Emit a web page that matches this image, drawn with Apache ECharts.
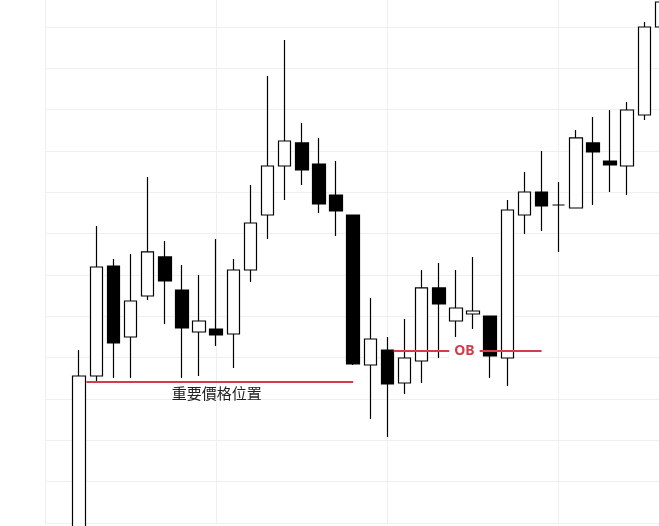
<!DOCTYPE html>
<html>
<head>
<meta charset="utf-8">
<script src="https://cdn.jsdelivr.net/npm/echarts@6/dist/echarts.min.js"></script>
<style>html,body{margin:0;padding:0;background:#fff;}#c{width:659px;height:526px;}</style>
</head>
<body>
<div id="c"></div>
<script>
// candle positions (x index) and OHLC values
var xIndex = [2,3,4,5,6,7,8,9,10,11,12,13,14,15,16,17,18,19,20,21,22,23,24,25,26,27,28,29,30,31,32,33,34,35,36];
var opens  = [-5,35.56,62.18,45.0,54.92,64.36,56.37,46.21,46.94,45.73,61.21,74.52,86.37,91.94,86.85,79.35,74.52,38.23,41.86,33.87,39.19,56.86,48.87,50.56,50.08,39.92,74.52,80.08,76.94,76.21,91.94,87.58,86.37,98.71,120.0];
var closes = [35.56,61.94,43.55,53.71,65.57,58.55,47.18,48.87,45.48,61.21,72.58,86.37,92.42,85.40,77.18,75.48,38.47,44.52,33.63,39.92,56.86,52.98,52.02,51.29,40.40,75.73,80.08,76.69,76.94,93.15,89.76,86.61,99.92,120.0,126.05];
var lows   = [-8,34.35,35.08,35.08,53.95,48.15,35.08,35.56,42.82,37.50,58.31,68.71,78.15,81.77,75.0,69.44,38.23,25.16,20.81,31.21,33.87,39.92,45.0,46.94,35.08,33.15,69.92,70.65,65.57,76.21,76.94,80.08,79.35,97.50,120.0];
var highs  = [41.86,71.86,63.87,65.08,83.71,68.23,62.42,60.0,68.71,63.87,81.77,108.15,116.85,96.77,93.15,87.58,74.52,54.44,45.0,49.35,61.21,62.90,61.21,64.36,50.08,78.15,84.92,90.0,82.50,95.08,98.23,99.92,101.85,121.21,128.0];
var keyLevel = 34.2;
var keyStart = 2.42, keyEnd = 18;
var keyLabel = '重要價格位置';
var obLevel = 41.6;
var obStart = 20.35, obEnd = 29;
var obLabel = 'OB';

var data = xIndex.map(function (x, i) { return [x, opens[i], closes[i], lows[i], highs[i]]; });

var chart = echarts.init(document.getElementById('c'), null, {renderer: 'canvas'});
chart.setOption({
  backgroundColor: '#ffffff',
  animation: false,
  grid: {left: 45, right: 0, top: 0, bottom: 3, containLabel: false},
  xAxis: {
    type: 'value', min: 0, max: 35.86, interval: 10,
    axisLine: {show: false}, axisTick: {show: false}, axisLabel: {show: false},
    splitLine: {show: true, showMaxLine: false, lineStyle: {color: '#efefef', width: 1}}
  },
  yAxis: {
    type: 'value', min: 0, max: 126.53, interval: 10,
    axisLine: {show: false}, axisTick: {show: false}, axisLabel: {show: false},
    splitLine: {show: true, showMaxLine: false, lineStyle: {color: '#efefef', width: 1}}
  },
  series: [{
    type: 'candlestick',
    encode: {x: 0, y: [1, 2, 3, 4]},
    data: data,
    clip: false,
    barWidth: 13,
    itemStyle: {
      color: '#ffffff', color0: '#000000',
      borderColor: '#000000', borderColor0: '#000000', borderWidth: 1.2
    },
    markLine: {
      silent: true, symbol: 'none', animation: false,
      data: [
        [
          {coord: [keyStart, keyLevel], lineStyle: {color: '#d43b4c', width: 2, type: 'solid'},
           label: {show: true, formatter: keyLabel, position: 'insideMiddleBottom', color: '#222', fontSize: 15,
                   fontFamily: 'Noto Sans CJK TC', distance: 4, offset: [-3, 0]}},
          {coord: [keyEnd, keyLevel]}
        ],
        [
          {coord: [obStart, obLevel], lineStyle: {color: '#d43b4c', width: 2, type: 'solid'},
           label: {show: true, formatter: obLabel, position: 'insideMiddle', verticalAlign: 'middle', distance: 0,
                   offset: [-3, 0], color: '#d43b4c', fontSize: 14, fontWeight: 'bold',
                   fontFamily: 'Noto Sans', backgroundColor: '#ffffff', padding: [0, 5]}},
          {coord: [obEnd, obLevel]}
        ]
      ]
    }
  }]
});
</script>
</body>
</html>
